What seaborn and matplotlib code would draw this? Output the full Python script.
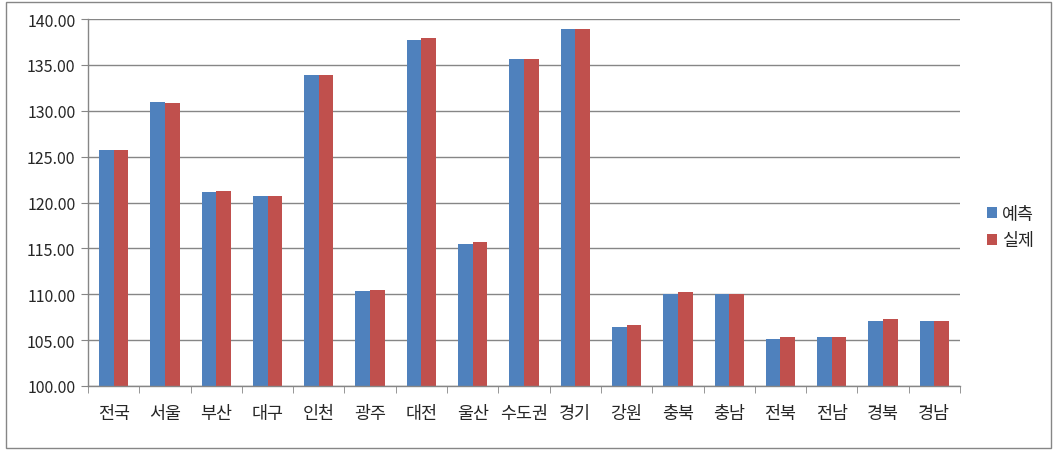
import numpy as np
import pandas as pd
import matplotlib
matplotlib.use('Agg')
import matplotlib.pyplot as plt
import seaborn as sns
from matplotlib.patches import Rectangle

# region labels and the two series
regions = ['전국', '서울', '부산', '대구', '인천', '광주', '대전', '울산', '수도권',
           '경기', '강원', '충북', '충남', '전북', '전남', '경북', '경남']
predicted = [125.75, 130.95, 121.1, 120.75, 133.9, 110.4, 137.7, 115.5, 135.65,
             138.9, 106.45, 110.0, 110.0, 105.15, 105.35, 107.1, 107.1]
actual = [125.75, 130.85, 121.25, 120.75, 133.9, 110.5, 137.95, 115.7, 135.65,
          138.9, 106.65, 110.25, 110.0, 105.35, 105.35, 107.3, 107.1]
series_names = ['예측', '실제']
colors = ['#4F81BD', '#C0504D']

df = pd.DataFrame({
    'region': regions * 2,
    'value': predicted + actual,
    'series': [series_names[0]] * len(regions) + [series_names[1]] * len(regions),
})

sns.set_style('white')
plt.rcParams['font.family'] = ['Noto Sans CJK KR', 'DejaVu Sans']

fig = plt.figure(figsize=(10.58, 4.56), dpi=100)
ax = fig.add_axes([88 / 1058, 69 / 456, 872 / 1058, 367 / 456])

sns.barplot(data=df, x='region', y='value', hue='series', palette=colors,
            width=0.57, saturation=1, linewidth=0, edgecolor='none', ax=ax, legend=True)

ax.set_ylim(100, 140)
ax.set_xlim(-0.5, len(regions) - 0.5)
ax.set_yticks(np.arange(100, 141, 5))
ax.set_yticklabels(['%.2f' % v for v in np.arange(100, 141, 5)], fontsize=11.5)
ax.yaxis.grid(True, color='#868686', linewidth=1)
ax.set_axisbelow(True)
ax.set_xlabel('')
ax.set_ylabel('')

for s in ['top', 'right']:
    ax.spines[s].set_visible(False)
for s in ['left', 'bottom']:
    ax.spines[s].set_color('#868686')
    ax.spines[s].set_linewidth(1)

ax.tick_params(axis='y', direction='out', length=5, color='#868686', left=True, pad=4)
ax.tick_params(axis='x', which='major', length=0, labelsize=12.5, pad=13)
ax.set_xticks(np.arange(-0.5, len(regions)), minor=True)
ax.tick_params(axis='x', which='minor', direction='out', length=5, color='#868686', bottom=True)

handles, labels = ax.get_legend_handles_labels()
ax.get_legend().remove()
fig.legend(handles, labels, loc='center left', bbox_to_anchor=(978 / 1058, 0.5),
           frameon=False, fontsize=12.5, handlelength=0.6, handleheight=0.6,
           handletextpad=0.3, labelspacing=0.5, borderpad=0)

fig.patches.append(Rectangle((6 / 1058, 7 / 456), 1045 / 1058, 446 / 456,
                             transform=fig.transFigure, fill=False,
                             edgecolor='#868686', linewidth=1))

fig.savefig('out.png', dpi=100)
